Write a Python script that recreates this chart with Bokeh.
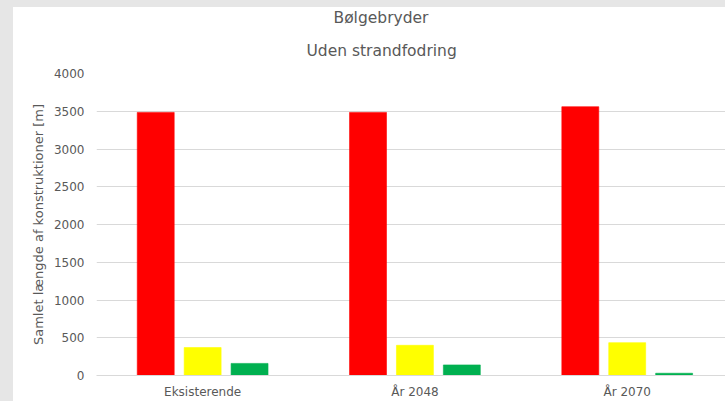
import numpy as np
from bokeh.plotting import figure
from bokeh.models import Range1d, FixedTicker, ColumnDataSource, Title
from bokeh.embed import file_html
from bokeh.resources import INLINE

# ---- data ----
categories = ["Eksisterende", "År 2048", "År 2070"]
red_values = [3485, 3485, 3560]
yellow_values = [370, 400, 435]
green_values = [160, 140, 30]
y_ticks = [0, 500, 1000, 1500, 2000, 2500, 3000, 3500, 4000]

title_line1 = "Bølgebryder"
title_line2 = "Uden strandfodring"
y_label = "Samlet længde af konstruktioner [m]"

FONT = "DejaVu Sans"
TXT = "#595959"
GRID = "#d9d9d9"

p = figure(width=725, height=401, output_backend="svg", toolbar_location=None,
           x_range=Range1d(0, 2.963), y_range=Range1d(0, 4000),
           min_border_left=96, min_border_right=0, min_border_top=73,
           min_border_bottom=26, title=None)
# grey page strips on the left and top, white chart panel behind the canvas
p.styles = {"background": "linear-gradient(to right, #e6e6e6 13px, rgba(0,0,0,0) 13px), "
                          "linear-gradient(to bottom, #e6e6e6 7px, #ffffff 7px)",
            "vertical-align": "top"}
p.background_fill_color = "white"
p.border_fill_alpha = 0.0
p.outline_line_color = None

idx = np.arange(len(categories)) + 0.5
series = [(red_values, -0.221, "#ff0000"),
          (yellow_values, 0.0, "#ffff00"),
          (green_values, 0.221, "#00b050")]
for vals, off, col in series:
    src = ColumnDataSource(dict(x=idx + off, top=vals))
    p.vbar(x="x", top="top", width=0.174, bottom=0, source=src,
           fill_color=col, line_color=col, line_alpha=0.6)

# title (two lines)
t2 = Title(text=title_line2, align="left", offset=210,
           text_font=FONT, text_font_size="15.5px", text_color=TXT,
           text_font_style="normal", standoff=27)
t1 = Title(text=title_line1, align="left", offset=237,
           text_font=FONT, text_font_size="15.5px", text_color=TXT,
           text_font_style="normal", standoff=0)
p.add_layout(t2, "above")
p.add_layout(t1, "above")

# axes
p.yaxis.ticker = FixedTicker(ticks=y_ticks)
p.yaxis.axis_line_color = None
p.yaxis.major_tick_line_color = None
p.yaxis.major_tick_out = 0
p.yaxis.major_tick_in = 0
p.yaxis.minor_tick_line_color = None
p.yaxis.major_label_text_font = FONT
p.yaxis.major_label_text_font_size = "12px"
p.yaxis.major_label_text_color = TXT
p.yaxis.major_label_standoff = 12
p.yaxis.axis_label = y_label
p.yaxis.axis_label_text_font = FONT
p.yaxis.axis_label_text_font_size = "13px"
p.yaxis.axis_label_text_font_style = "normal"
p.yaxis.axis_label_text_color = TXT
p.yaxis.axis_label_standoff = 5

p.xaxis.ticker = FixedTicker(ticks=list(idx))
p.xaxis.major_label_overrides = {float(v): c for v, c in zip(idx, categories)}
p.xaxis.axis_line_color = GRID
p.xaxis.major_tick_line_color = None
p.xaxis.major_tick_out = 0
p.xaxis.major_tick_in = 0
p.xaxis.minor_tick_line_color = None
p.xaxis.major_label_text_font = FONT
p.xaxis.major_label_text_font_size = "12px"
p.xaxis.major_label_text_color = TXT
p.xaxis.major_label_standoff = 9

p.xgrid.grid_line_color = None
p.ygrid.grid_line_color = GRID
p.ygrid.grid_line_width = 1

open("out.html", "w").write(file_html(p, INLINE))
